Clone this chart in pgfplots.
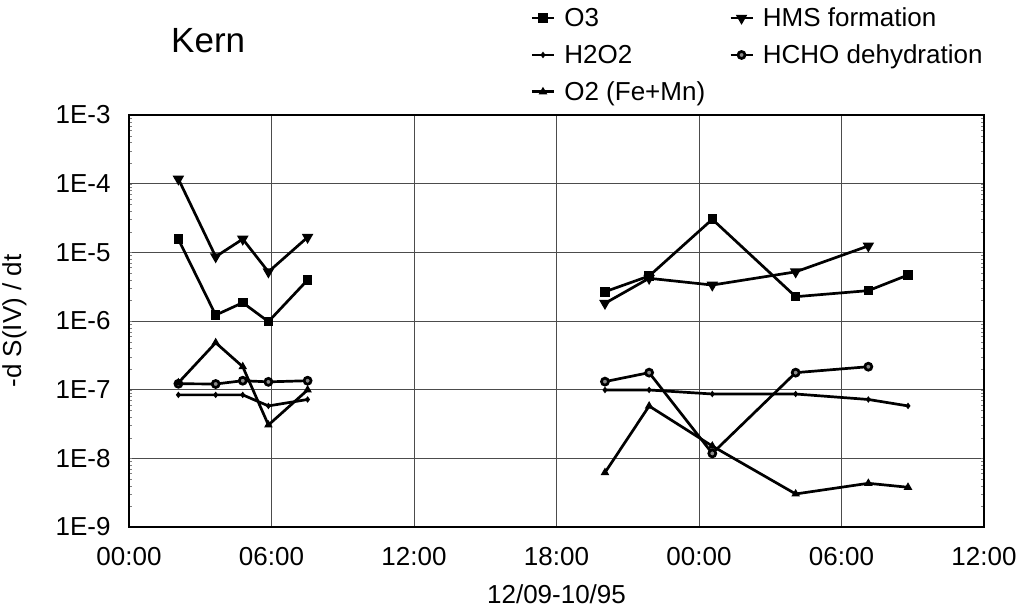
\documentclass[border=0pt]{standalone}
\usepackage{fontspec}
\setmainfont{Liberation Sans}
\usepackage{pgfplots}
\pgfplotsset{compat=1.18}
\begin{document}
\begin{tikzpicture}
\useasboundingbox (-129pt,-81pt) rectangle (890pt,527pt);
\begin{axis}[
  at={(0pt,0pt)}, anchor=south west,
  scale only axis, width=855pt, height=412pt,
  xmin=0, xmax=36, ymin=1e-9, ymax=1e-3, ymode=log,
  xtick={0,6,12,18,24,30,36},
  xticklabels={00:00,06:00,12:00,18:00,00:00,06:00,12:00},
  ytick={1e-9,1e-8,1e-7,1e-6,1e-5,1e-4,1e-3},
  yticklabels={1E-9,1E-8,1E-7,1E-6,1E-5,1E-4,1E-3},
  minor tick num=0, major tick length=0pt,
  grid=major, grid style={black!70, line width=0.7pt},
  axis line style={black, line width=1.3pt},
  tick label style={font=\fontsize{26}{31}\selectfont},
  xticklabel style={anchor=base, yshift=-38pt},
  yticklabel style={anchor=east, xshift=-15pt},
  xlabel={12/09-10/95}, ylabel={-d S(IV) / dt},
  every axis x label/.style={at={(axis description cs:0.5,-0.163)}, anchor=center, font=\fontsize{26}{31}\selectfont},
  every axis y label/.style={at={(axis description cs:-0.134,0.5)}, rotate=90, anchor=center, font=\fontsize{26}{31}\selectfont},
  legend columns=2,
  legend style={at={(axis description cs:0.466,1.27)}, anchor=north west,
    draw=none, fill=none, font=\fontsize{26}{31}\selectfont,
    row sep=12.5pt,
    /tikz/every odd column/.append style={column sep=7pt},
    /tikz/every even column/.append style={column sep=22pt}},
  legend cell align=left,
  legend image code/.code={\draw[mark repeat=2,mark phase=2] plot coordinates {(0pt,0pt)(11pt,0pt)(22pt,0pt)};},
  every axis plot/.append style={black, line width=2.7pt, mark options={solid, line width=1pt}},
]
% O3
\addplot[mark=square*, mark size=4.3pt] coordinates {
 (2.08,1.55e-5) (3.65,1.22e-6) (4.79,1.85e-6) (5.87,9.8e-7) (7.52,3.96e-6)};
\addlegendentry{O3}
% HMS formation
\addplot[mark=triangle*, mark size=4pt, mark options={rotate=180}] coordinates {
 (2.08,1.17e-4) (3.65,8.65e-6) (4.79,1.56e-5) (5.87,5.2e-6) (7.52,1.66e-5)};
\addlegendentry{HMS formation}
% H2O2
\addplot[mark=diamond*, mark size=2.5pt] coordinates {
 (2.08,8.4e-8) (3.65,8.4e-8) (4.79,8.4e-8) (5.87,5.8e-8) (7.52,7.2e-8)};
\addlegendentry{H2O2}
% HCHO dehydration
\addplot[mark=*, mark size=3.5pt, mark options={fill=black!45, draw=black}] coordinates {
 (2.08,1.22e-7) (3.65,1.21e-7) (4.79,1.35e-7) (5.87,1.3e-7) (7.52,1.35e-7)};
\addlegendentry{HCHO dehydration}
% O2 (Fe+Mn)
\addplot[mark=triangle*, mark size=4pt] coordinates {
 (2.08,1.26e-7) (3.65,4.83e-7) (4.79,2.16e-7) (5.87,3.06e-8) (7.52,9.9e-8)};
\addlegendentry{O2 (Fe+Mn)}
% second day, same styles, no legend
\addplot[mark=square*, mark size=4.3pt, forget plot] coordinates {
 (20.04,2.67e-6) (21.9,4.52e-6) (24.56,3.03e-5) (28.07,2.26e-6) (31.13,2.77e-6) (32.8,4.68e-6)};
\addplot[mark=triangle*, mark size=4pt, mark options={rotate=180}, forget plot] coordinates {
 (20.04,1.81e-6) (21.9,4.19e-6) (24.56,3.34e-6) (28.07,5.2e-6) (31.13,1.24e-5)};
\addplot[mark=diamond*, mark size=2.5pt, forget plot] coordinates {
 (20.04,9.9e-8) (21.9,9.9e-8) (24.56,8.65e-8) (28.07,8.65e-8) (31.13,7.2e-8) (32.8,5.8e-8)};
\addplot[mark=*, mark size=3.5pt, mark options={fill=black!45, draw=black}, forget plot] coordinates {
 (20.04,1.31e-7) (21.9,1.77e-7) (24.56,1.18e-8) (28.07,1.77e-7) (31.13,2.16e-7)};
\addplot[mark=triangle*, mark size=4pt, forget plot] coordinates {
 (20.04,6.2e-9) (21.9,5.78e-8) (24.56,1.51e-8) (28.07,3.03e-9) (31.13,4.33e-9) (32.8,3.79e-9)};
\end{axis}
\node[anchor=base west, inner sep=0pt, font=\fontsize{35}{42}\selectfont] at (42pt,474pt) {Kern};
\end{tikzpicture}
\end{document}
